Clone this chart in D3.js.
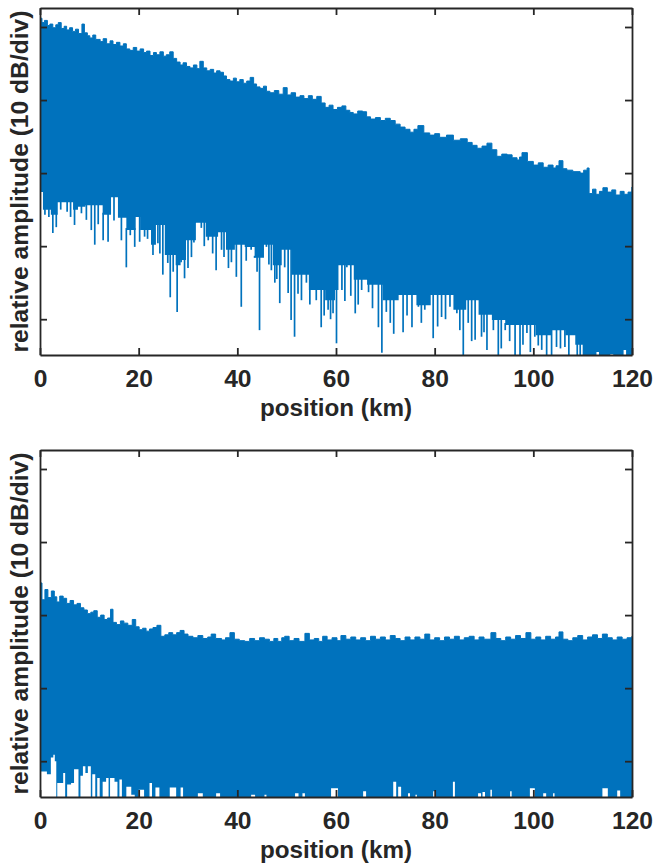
<!DOCTYPE html>
<html><head><meta charset="utf-8">
<script src="https://cdn.jsdelivr.net/npm/d3@7"></script>
<style>html,body{margin:0;padding:0;background:#fff;} svg{display:block;}</style>
</head><body>
<svg id="chart" width="655" height="865"></svg>
<script>
// ---- data (position in km, relative amplitude in dB) ----
const xTicks = [0, 20, 40, 60, 80, 100, 120];
const yTicks = [-40, -30, -20, -10, 0];
const xLabel = "position (km)";
const yLabel = "relative amplitude (10 dB/div)";

// panel 1: upper envelope of trace
const top1Km = [0,0.4,0.9,1.5,2.0,2.6,3.2,3.7,4.3,4.9,5.4,6.0,6.6,7.2,7.8,8.5,9.0,9.6,10.1,10.7,11.3,12.2,12.8,13.5,14.2,14.8,15.5,16.2,16.9,17.5,18.2,18.9,19.6,20.3,21.0,21.6,22.3,23.0,23.6,24.3,25.0,25.6,26.3,27.0,27.7,28.4,29.0,29.7,30.4,31.1,31.8,32.4,33.1,33.8,34.5,35.2,35.8,36.5,37.2,37.8,38.5,39.2,39.8,40.5,41.2,41.9,42.6,43.3,43.9,44.6,45.3,45.9,46.6,47.5,48.4,49.3,50.1,50.9,51.8,52.7,53.5,54.4,55.2,56.1,57.0,57.8,58.6,59.4,60.3,61.2,62.0,62.8,63.5,64.4,65.4,66.2,67.0,68.0,69.0,70.0,71.0,72.0,73.0,74.0,75.0,75.8,76.6,77.8,79.0,80.0,81.0,82.4,83.8,85.2,86.6,87.6,88.6,89.6,90.6,91.6,92.6,93.6,94.7,95.7,96.7,97.2,97.7,98.8,100.0,101.0,102.0,103.0,104.0,104.6,105.2,106.0,106.8,108.0,109.5,110.2,110.9,111.3,112.0,112.7,113.4,114.1,115.0,115.9,116.7,117.6,118.4,119.2,120];
const top1Db = [1.2,0.6,0.9,0.2,0.4,-0.1,0.3,0.6,-0.2,0.1,-0.4,-0.1,-0.6,-0.3,-0.9,0.4,-0.8,-1.2,-1.5,-1.1,-1.7,-2.0,-1.6,-2.3,-1.9,-2.4,-2.1,-2.6,-2.3,-3.0,-3.2,-2.8,-3.3,-3.0,-3.5,-3.3,-3.9,-3.5,-3.8,-3.4,-4.0,-3.8,-3.4,-4.3,-4.8,-5.2,-4.9,-5.4,-5.6,-5.2,-5.7,-4.7,-5.6,-6.0,-5.8,-6.3,-6.0,-6.2,-6.7,-7.2,-7.4,-7.0,-7.5,-7.2,-7.7,-7.4,-6.9,-7.8,-8.2,-8.4,-8.1,-8.8,-9.0,-8.7,-9.2,-8.3,-9.3,-9.0,-9.6,-9.4,-9.8,-9.4,-9.9,-9.5,-10.4,-11.0,-10.7,-11.3,-11.0,-10.8,-11.4,-11.7,-11.9,-11.5,-11.6,-12.3,-12.6,-12.4,-12.8,-12.5,-12.8,-13.3,-13.7,-14.0,-14.4,-14.0,-13.5,-14.5,-14.8,-14.6,-15.1,-14.8,-15.5,-15.3,-15.8,-16.2,-16.6,-16.3,-15.9,-16.8,-17.7,-17.4,-17.5,-17.9,-18.2,-17.8,-17.2,-18.4,-18.9,-18.6,-19.2,-18.9,-19.3,-19.0,-18.3,-19.4,-19.6,-19.8,-20.0,-19.6,-19.3,-22.8,-22.2,-22.9,-22.5,-22.0,-22.6,-22.3,-23.0,-22.5,-22.9,-22.6,-21.9];
// panel 1: lower edge of the dense band
const floor1Km = [0,0.6,2.2,3.6,6.7,7.7,9.2,12.7,14.4,15.8,17.5,19.4,20.3,22.5,23.5,25.3,27.5,28.5,29.6,31.6,33.6,36.1,37.7,39.5,41.5,43.5,45.4,47.2,49.0,51.0,54.5,57.8,59.8,60.5,63.6,66.3,69.5,72.7,76.3,79.2,83.8,86.4,88.9,91.6,94.3,97.0,100.5,103.6,106.5,108.5,110.0,112.8,113.3,115.6,116.2,118.3,118.8];
const floor1Db = [-22.6,-25.0,-25.7,-24.0,-25.0,-24.6,-24.4,-25.7,-23.3,-26.1,-27.8,-26.0,-27.8,-29.8,-27.1,-31.2,-32.6,-31.9,-29.2,-26.8,-28.7,-28.1,-30.5,-29.8,-30.1,-31.6,-29.8,-32.6,-30.5,-33.9,-36.0,-37.4,-36.0,-32.6,-34.6,-35.3,-37.4,-36.7,-38.1,-36.7,-38.7,-37.4,-39.4,-40.1,-40.8,-40.8,-42.2,-41.5,-42.2,-43.5,-47,-44.5,-47,-44.8,-47,-44.2,-47];
// panel 1: fading dips below the band
const spike1Km = [2.6,3.3,7.0,8.4,9.4,10.4,11.1,12.8,13.8,16.5,17.5,19.2,20.2,21.2,22.9,23.9,24.9,25.9,26.4,27.8,28.6,29.3,30.7,32.7,34.1,35.7,36.8,38.8,39.8,40.8,42.8,43.5,44.5,45.9,46.9,47.6,48.6,49.6,50.3,50.9,51.6,53.0,54.0,55.0,56.0,57.0,58.4,59.4,60.1,61.2,62.2,63.9,65.2,66.6,68.6,69.3,71.0,72.0,73.6,75.4,76.7,78.0,79.7,81.4,83.1,84.5,85.8,86.8,88.2,89.5,90.6,91.9,92.9,94.3,96.3,97.3,98.7,100.3,101.7,102.7,103.7,104.7,106.4,107.8,
  1.0,1.8,4.2,5.5,6.2,11.8,15.0,18.3,21.8,24.3,27.0,30.0,31.2,33.3,35.0,37.3,38.2,41.8,44.0,46.4,48.0,52.3,54.7,57.6,58.9,61.8,63.0,64.5,67.4,70.2,71.7,74.4,77.3,80.6,82.2,85.1,87.5,90.0,93.5,95.2,97.9,99.4,101.0,105.5,107.2,108.9,109.5];
const spike1Db = [-28.2,-27.4,-27.1,-25.5,-26.4,-27.8,-29.8,-29.2,-29.4,-29.2,-32.9,-30.1,-29.4,-28.7,-31.2,-29.6,-33.9,-32.3,-37.0,-39.0,-32.2,-34.4,-31.5,-27.5,-29.2,-33.3,-30.5,-32.2,-34.2,-38.3,-30.5,-31.6,-41.5,-30.1,-33.3,-35.0,-37.8,-32.9,-36.4,-40.1,-42.4,-37.4,-35.0,-36.0,-37.4,-41.1,-38.7,-39.2,-43.3,-36.0,-32.9,-39.2,-36.0,-36.3,-41.1,-44.6,-40.5,-37.0,-41.8,-41.1,-38.3,-38.7,-42.6,-39.7,-38.3,-39.2,-46,-40.5,-42.8,-42.4,-44.2,-41.5,-46,-41.5,-46,-46,-41.9,-42.4,-44.2,-46,-46,-43.8,-43.8,-42.0,
  -25.7,-26.0,-25.0,-25.3,-26.0,-27.0,-26.5,-28.5,-29.0,-31.0,-33.5,-33.0,-29.5,-30.0,-31.0,-31.5,-33.0,-32.0,-33.5,-32.5,-34.5,-36.5,-38.0,-39.5,-40.0,-37.5,-36.8,-38.0,-38.5,-39.0,-42.0,-39.5,-40.5,-41.0,-40.0,-41.5,-43.0,-41.8,-44.0,-43.0,-43.5,-44.5,-43.6,-44.0,-46,-46,-45.0];

// panel 2: upper envelope
const top2Km = [0,0.4,1.0,1.6,2.3,2.9,3.4,4.0,4.7,5.4,6.1,6.8,7.5,8.2,8.9,9.6,10.3,10.9,11.6,12.3,13.0,13.7,14.3,14.8,15.5,16.3,17.0,17.8,18.7,19.4,20.1,20.8,21.5,22.2,22.9,23.7,24.5,25.3,26.1,26.9,27.7,28.4,29.2,30.0,31.0,32.0,33.0,34.0,34.7,35.6,36.8,37.6,38.5,39.4,40.4,41.5,42.5,43.5,44.5,45.5,46.5,47.4,48.2,49.0,49.6,50.5,51.5,52.5,53.7,54.6,55.6,56.5,57.3,58.2,59.2,60.2,61.0,62.0,63.0,64.0,65.0,66.0,67.0,68.0,69.0,70.0,71.0,72.0,73.0,74.0,75.0,76.0,77.0,78.0,79.0,80.0,81.0,82.0,83.0,84.0,85.0,86.0,87.0,88.0,89.0,90.0,91.4,92.4,93.4,94.4,95.4,96.4,97.4,98.5,99.5,100.5,101.5,102.5,103.5,104.5,105.2,106.0,107.0,108.0,109.0,110.0,111.0,112.0,113.0,114.0,115.0,116.0,117.0,118.0,119.0,120];
const top2Db = [-15.6,-17.9,-16.5,-17.6,-16.7,-17.5,-18.2,-17.4,-17.7,-18.4,-18.0,-18.6,-18.4,-19.0,-19.3,-19.8,-19.6,-19.4,-20.3,-20.0,-20.6,-20.4,-19.2,-21.0,-21.3,-20.8,-21.1,-21.4,-20.6,-21.6,-22.0,-21.8,-22.2,-21.9,-21.7,-21.4,-22.9,-22.7,-22.4,-22.7,-22.4,-22.1,-22.6,-22.9,-23.1,-22.8,-23.2,-23.0,-22.6,-23.2,-23.4,-23.1,-22.4,-23.3,-23.5,-23.6,-23.2,-23.5,-23.1,-23.3,-23.6,-23.2,-23.6,-23.1,-22.9,-23.5,-23.2,-23.6,-22.5,-23.4,-23.2,-23.6,-22.9,-23.4,-23.1,-23.5,-22.8,-23.3,-23.0,-23.4,-23.1,-23.5,-22.9,-23.3,-23.0,-23.4,-22.8,-23.2,-23.5,-23.0,-23.4,-23.0,-23.3,-22.6,-23.4,-23.1,-23.5,-23.0,-23.3,-22.9,-23.4,-23.1,-22.9,-23.4,-23.0,-23.3,-22.4,-23.2,-23.5,-23.0,-23.3,-22.8,-23.2,-22.4,-23.3,-23.0,-23.4,-22.9,-23.3,-23.0,-22.3,-23.3,-23.5,-23.1,-22.8,-23.4,-23.0,-22.7,-23.2,-22.6,-23.1,-23.4,-23.0,-23.3,-23.1,-22.9];
// panel 2: lower edge (mostly below the axis)
const floor2Km = [0,0.2,1.4,2.2,2.7,3.0,3.3,3.5,4.7,5.1,5.5,6.3,6.9,7.8,8.2,8.7,9.2,9.7,10.3,10.6,11.2,11.6,12.1,12.7,13.4,13.9,14.2,15.1,15.7,16.1,16.6,17.5,18.5,19.2,20.0,21.1,22.2,22.7,23.4,24.2,26.3,27.6,28.5,29.0,32.0,33.0,35.7,36.5,42.8,43.6,45.5,45.9,51.7,52.4,53.2,53.7,59.0,60.4,65.5,66.1,71.6,72.2,72.6,73.2,74.6,75.0,76.1,76.4,79.7,80.1,83.7,84.1,88.8,89.4,89.7,90.2,91.3,91.6,95.3,95.6,99.3,100.3,102.0,102.6,104.0,104.3,114.0,115.1,117.0,117.6];
const floor2Db = [-40.2,-41.4,-41.8,-39.5,-39.1,-40.0,-47,-43.0,-41.6,-47,-43.2,-43.0,-41.1,-47,-42.0,-40.7,-41.6,-40.7,-47,-41.8,-47,-42.3,-47,-42.8,-42.3,-47,-42.3,-42.8,-47,-42.5,-47,-43.5,-44.6,-47,-43.9,-47,-43.0,-47,-43.6,-47,-43.6,-47,-43.6,-47,-44.4,-47,-44.4,-47,-44.6,-47,-44.6,-47,-44.4,-47,-44.4,-47,-43.7,-47,-44.1,-47,-42.8,-47,-43.5,-47,-44.4,-47,-44.6,-47,-44.1,-47,-42.8,-47,-44.4,-47,-44.2,-47,-43.9,-47,-44.1,-47,-43.7,-47,-44.4,-47,-44.4,-47,-43.7,-47,-44.0,-47];
const spike2Km = [];
const spike2Db = [];

// ---- layout / style ----
const BLUE = "#0072BD", AX = "#262626";
const FONT = "'Liberation Sans', Arial, Helvetica, sans-serif";
const left = 40, right = 632;
const panels = [
  {top: 8,   bottom: 355, topKm: top1Km, topDb: top1Db, floorKm: floor1Km, floorDb: floor1Db, spikeKm: spike1Km, spikeDb: spike1Db},
  {top: 450, bottom: 797, topKm: top2Km, topDb: top2Db, floorKm: floor2Km, floorDb: floor2Db, spikeKm: spike2Km, spikeDb: spike2Db}
];

const svg = d3.select("#chart");
const defs = svg.append("defs");
const x = d3.scaleLinear().domain([0, 120]).range([left, right]);

function stretch(sel, f) {
  sel.each(function () {
    const w = this.getComputedTextLength();
    this.setAttribute("textLength", w * f);
    this.setAttribute("lengthAdjust", "spacingAndGlyphs");
  });
}

panels.forEach((p, i) => {
  const y = d3.scaleLinear().domain([-44.9, 2.6]).range([p.bottom, p.top]);
  defs.append("clipPath").attr("id", "clip" + i)
    .append("rect").attr("x", left).attr("y", p.top)
    .attr("width", right - left).attr("height", p.bottom - p.top);

  const g = svg.append("g");
  const dg = g.append("g").attr("clip-path", `url(#clip${i})`);

  const topData = d3.zip(p.topKm, p.topDb);
  const floorData = d3.zip(p.floorKm, p.floorDb);
  const spikeData = d3.zip(p.spikeKm, p.spikeDb);

  const band = d3.area().x(d => x(d[0])).y0(p.bottom + 5).y1(d => y(d[1])).curve(d3.curveStepAfter);
  dg.append("path").datum(topData).attr("d", band)
    .attr("fill", BLUE).attr("stroke", BLUE).attr("stroke-width", 1);
  dg.append("path").datum(floorData).attr("d", band)
    .attr("fill", "#fff");

  const bis = d3.bisector(d => d[0]).right;
  dg.selectAll("line.spike").data(spikeData).join("line")
    .attr("class", "spike")
    .attr("x1", d => x(d[0])).attr("x2", d => x(d[0]))
    .attr("y1", d => { const k = Math.max(0, bis(floorData, d[0]) - 1); return y(floorData[k][1]) - 2; })
    .attr("y2", d => y(d[1]))
    .attr("stroke", BLUE).attr("stroke-width", 1.7);

  const styleAxis = a => {
    a.style("color", AX).attr("font-family", FONT).attr("font-size", 23).attr("font-weight", "bold");
    a.select(".domain").attr("stroke-width", 1.8);
    a.selectAll(".tick line").attr("stroke-width", 1.8);
  };

  const xb = g.append("g").attr("transform", `translate(0,${p.bottom})`)
    .call(d3.axisBottom(x).tickValues(xTicks).tickSizeInner(-7).tickSizeOuter(0).tickPadding(0));
  styleAxis(xb);
  xb.selectAll(".tick text").attr("y", 32).attr("dy", null).attr("fill", AX);
  stretch(xb.selectAll(".tick text"), 1.07);

  const xt = g.append("g").attr("transform", `translate(0,${p.top})`)
    .call(d3.axisTop(x).tickValues(xTicks).tickSizeInner(-7).tickSizeOuter(0).tickFormat(() => ""));
  styleAxis(xt);
  const yl = g.append("g").attr("transform", `translate(${left},0)`)
    .call(d3.axisLeft(y).tickValues(yTicks).tickSizeInner(-7).tickSizeOuter(0).tickFormat(() => ""));
  styleAxis(yl);
  const yr = g.append("g").attr("transform", `translate(${right},0)`)
    .call(d3.axisRight(y).tickValues(yTicks).tickSizeInner(-7).tickSizeOuter(0).tickFormat(() => ""));
  styleAxis(yr);

  g.append("text").text(xLabel)
    .attr("x", (left + right) / 2).attr("y", p.bottom + 61)
    .attr("text-anchor", "middle").attr("font-family", FONT).attr("font-size", 23)
    .attr("font-weight", "bold").attr("fill", AX)
    .attr("textLength", 152).attr("lengthAdjust", "spacingAndGlyphs");

  g.append("text").text(yLabel)
    .attr("transform", `translate(28,${(p.top + p.bottom) / 2}) rotate(-90)`)
    .attr("text-anchor", "middle").attr("font-family", FONT).attr("font-size", 23)
    .attr("font-weight", "bold").attr("fill", AX)
    .attr("textLength", 342).attr("lengthAdjust", "spacingAndGlyphs");
});
</script>
</body></html>
